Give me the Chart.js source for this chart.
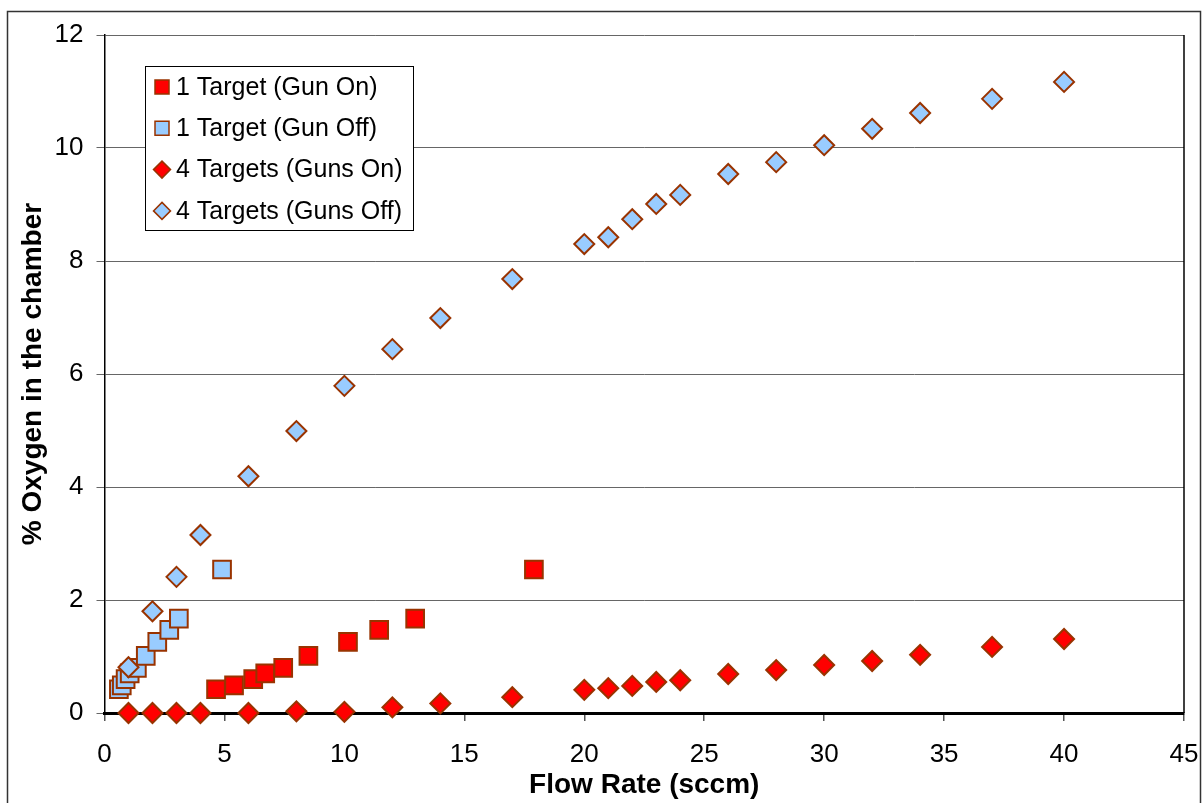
<!DOCTYPE html>
<html>
<head>
<meta charset="utf-8">
<script src="https://cdn.jsdelivr.net/npm/chart.js@4/dist/chart.umd.min.js"></script>
<style>
  html, body { margin: 0; padding: 0; background: #fff; }
  #wrap { width: 1203px; height: 803px; }
</style>
</head>
<body>
<div id="wrap"><canvas id="oxygenChart" width="1203" height="803"></canvas></div>
<script>
// flow rate (sccm) and % oxygen for each run
const flowOneOn  = [4.65, 5.4, 6.2, 6.7, 7.45, 8.5, 10.15, 11.45, 12.95, 17.9];
const flowOneOff = [0.6, 0.72, 0.88, 1.05, 1.35, 1.72, 2.2, 2.7, 3.1, 4.9];
const oxyOne     = [0.42, 0.49, 0.60, 0.70, 0.80, 1.01, 1.26, 1.47, 1.67, 2.54];

const flowFour   = [1, 2, 3, 4, 6, 8, 10, 12, 14, 17, 20, 21, 22, 23, 24, 26, 28, 30, 32, 34, 37, 40];
const oxyFourOn  = [0, 0, 0, 0, 0, 0.03, 0.02, 0.1, 0.17, 0.28, 0.41, 0.44, 0.48, 0.55, 0.58, 0.69, 0.76, 0.85, 0.92, 1.03, 1.17, 1.31];
const oxyFourOff = [0.81, 1.8, 2.41, 3.15, 4.19, 4.99, 5.79, 6.44, 6.99, 7.68, 8.3, 8.42, 8.74, 9.01, 9.17, 9.54, 9.75, 10.05, 10.34, 10.62, 10.87, 11.17];

const seriesLabels = ['1 Target (Gun On)', '1 Target (Gun Off)', '4 Targets (Guns On)', '4 Targets (Guns Off)'];
const xTicks = [0, 5, 10, 15, 20, 25, 30, 35, 40, 45];
const yTicks = [0, 2, 4, 6, 8, 10, 12];

const RED = '#ff0000';
const SKY = '#99ccff';
const EDGE = '#993300';
const FONT = "'Liberation Sans', Arial, sans-serif";

function pairs(xs, ys) {
    return xs.map((x, i) => ({ x: x, y: ys[i] }));
}

function series(label, data, fill, style, order) {
    return {
        label: label,
        data: data,
        showLine: false,
        pointStyle: style,
        pointRadius: style === 'rect' ? 12.5 : 10,
        pointHoverRadius: style === 'rect' ? 12.5 : 10,
        pointBackgroundColor: fill,
        pointBorderColor: EDGE,
        pointBorderWidth: 2,
        order: order,
        clip: false
    };
}

// page border, plot frame and the boxed key
const framePlugin = {
    id: 'frame',
    beforeDraw(chart) {
        const ctx = chart.ctx;
        ctx.save();
        ctx.fillStyle = '#fff';
        ctx.fillRect(0, 0, chart.width, chart.height);
        ctx.strokeStyle = '#333';
        ctx.lineWidth = 1.5;
        ctx.strokeRect(7.5, 11.5, 1193, 820);
        ctx.restore();
    },
    beforeDatasetsDraw(chart) {
        const ctx = chart.ctx;
        const a = chart.chartArea;
        ctx.save();
        ctx.strokeStyle = '#000';
        ctx.lineWidth = 1.5;
        ctx.beginPath();
        ctx.moveTo(a.right, a.top);
        ctx.lineTo(a.right, a.bottom);
        ctx.stroke();
        ctx.restore();
    },
    afterDraw(chart) {
        const ctx = chart.ctx;
        const box = { x: 145.5, y: 66.5, w: 268, h: 164 };
        ctx.save();
        ctx.fillStyle = '#fff';
        ctx.fillRect(box.x, box.y, box.w, box.h);
        ctx.strokeStyle = '#000';
        ctx.lineWidth = 1;
        ctx.strokeRect(box.x, box.y, box.w, box.h);

        ctx.font = '25px ' + FONT;
        ctx.textBaseline = 'middle';
        ctx.textAlign = 'left';
        chart.data.datasets.forEach((ds, i) => {
            const cy = 87 + i * 41.3;
            const cx = 162;
            ctx.fillStyle = ds.pointBackgroundColor;
            ctx.strokeStyle = EDGE;
            ctx.lineWidth = 1.5;
            ctx.beginPath();
            if (ds.pointStyle === 'rect') {
                ctx.rect(cx - 7, cy - 7, 14, 14);
            } else {
                ctx.moveTo(cx, cy - 8.5);
                ctx.lineTo(cx + 8.5, cy);
                ctx.lineTo(cx, cy + 8.5);
                ctx.lineTo(cx - 8.5, cy);
                ctx.closePath();
            }
            ctx.fill();
            ctx.stroke();
            ctx.fillStyle = '#000';
            ctx.fillText(ds.label, 176, cy + 1);
        });
        ctx.restore();
    }
};

const ctx = document.getElementById('oxygenChart').getContext('2d');

new Chart(ctx, {
    type: 'scatter',
    data: {
        datasets: [
            series(seriesLabels[0], pairs(flowOneOn, oxyOne), RED, 'rect', 4),
            series(seriesLabels[1], pairs(flowOneOff, oxyOne), SKY, 'rect', 3),
            series(seriesLabels[2], pairs(flowFour, oxyFourOn), RED, 'rectRot', 2),
            series(seriesLabels[3], pairs(flowFour, oxyFourOff), SKY, 'rectRot', 1)
        ]
    },
    options: {
        responsive: false,
        animation: false,
        devicePixelRatio: 1,
        layout: {
            padding: { left: 0, top: 35, right: 19, bottom: 0 }
        },
        plugins: {
            legend: { display: false },
            tooltip: { enabled: false }
        },
        scales: {
            x: {
                type: 'linear',
                min: 0,
                max: 45,
                afterBuildTicks: scale => { scale.ticks = xTicks.map(v => ({ value: v })); },
                afterFit: scale => {
                    scale.height = 90;
                    scale.paddingLeft = 0;
                    scale.paddingRight = 0;
                },
                ticks: {
                    color: '#000',
                    font: { family: FONT, size: 26 },
                    padding: 18,
                    maxRotation: 0
                },
                grid: {
                    drawOnChartArea: false,
                    drawTicks: true,
                    tickLength: 8,
                    color: '#555',
                    lineWidth: 1.5
                },
                border: { color: '#000', width: 3 },
                title: {
                    display: true,
                    text: 'Flow Rate (sccm)',
                    color: '#000',
                    font: { family: FONT, size: 28, weight: 'bold' },
                    padding: { top: 0, bottom: 1 }
                }
            },
            y: {
                type: 'linear',
                min: 0,
                max: 12,
                afterBuildTicks: scale => { scale.ticks = yTicks.map(v => ({ value: v })); },
                afterFit: scale => { scale.width = 104.5; },
                ticks: {
                    color: '#000',
                    font: { family: FONT, size: 26 },
                    padding: 13
                },
                grid: {
                    color: '#666',
                    lineWidth: 1,
                    tickLength: 8
                },
                border: { color: '#000', width: 1.5 },
                title: {
                    display: true,
                    text: '% Oxygen in the chamber',
                    color: '#000',
                    font: { family: FONT, size: 28, weight: 'bold' },
                    padding: { top: 16, bottom: 0 }
                }
            }
        }
    },
    plugins: [framePlugin]
});
</script>
</body>
</html>
